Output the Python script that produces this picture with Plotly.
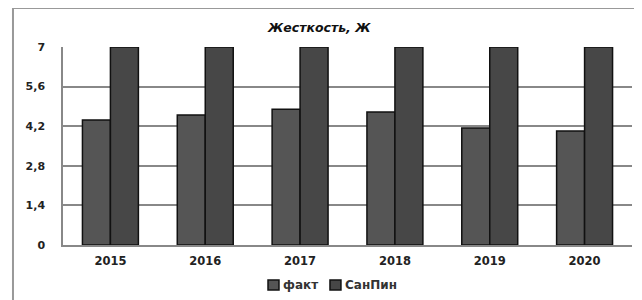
import plotly.graph_objects as go

years = ["2015", "2016", "2017", "2018", "2019", "2020"]
fakt = [4.42, 4.6, 4.8, 4.7, 4.14, 4.03]
sanpin = [7, 7, 7, 7, 7, 7]
ytick_vals = [0, 1.4, 2.8, 4.2, 5.6, 7]
ytick_text = ["0", "1,4", "2,8", "4,2", "5,6", "7"]
series_names = ["факт", "СанПин"]
series_colors = ["#555555", "#474747"]

fig = go.Figure()
for name, vals, col in zip(series_names, [fakt, sanpin], series_colors):
    fig.add_trace(go.Bar(x=years, y=vals, name=name, showlegend=False,
                         marker=dict(color=col, line=dict(color="#111111", width=1.5))))

font_family = "DejaVu Sans, Verdana, sans-serif"

# compact legend (symbol directly followed by text, as in the reference)
legend_sym_x = [0.3603, 0.4692]
legend_txt_x = [0.383, 0.492]
shapes = [
    dict(type="line", xref="paper", yref="paper", x0=-0.0879, x1=1.05, y0=1.197, y1=1.197,
         line=dict(color="#999999", width=2)),
    dict(type="line", xref="paper", yref="paper", x0=-0.0879, x1=-0.0879, y0=1.197, y1=-0.3,
         line=dict(color="#999999", width=2)),
]
annotations = [dict(text="<b><i>Жесткость, Ж</i></b>", x=0.45, y=1.096,
                    xref="paper", yref="paper", showarrow=False,
                    font=dict(size=12.5, color="#111111"), xanchor="center", yanchor="middle")]
for name, col, sx, tx in zip(series_names, series_colors, legend_sym_x, legend_txt_x):
    shapes.append(dict(type="rect", xref="paper", yref="paper", x0=sx, x1=sx + 0.0193,
                       y0=-0.177, y1=-0.227, fillcolor=col,
                       line=dict(color="#111111", width=1.5)))
    annotations.append(dict(text="<b>" + name + "</b>", x=tx, y=-0.202, xref="paper", yref="paper",
                            showarrow=False, xanchor="left", yanchor="middle",
                            font=dict(size=12, color="#333333", family=font_family)))

fig.update_layout(
    width=642, height=300,
    margin=dict(l=55, r=18, t=39, b=63, autoexpand=False),
    paper_bgcolor="white", plot_bgcolor="white",
    barmode="group", bargap=0.41, bargroupgap=0,
    font=dict(family=font_family, size=10, color="#222222"),
    annotations=annotations,
    shapes=shapes,
)
fig.update_yaxes(range=[0, 7], tickvals=ytick_vals, ticktext=ytick_text,
                 showgrid=True, gridcolor="#888888", gridwidth=1.5,
                 showline=True, linecolor="#888888", linewidth=1.5,
                 zeroline=False, ticks="outside", ticklen=14, tickcolor="white",
                 tickfont=dict(size=11, color="#222222", family=font_family, weight="bold"))
fig.update_xaxes(showline=True, linecolor="#888888", linewidth=1.5,
                 ticks="outside", ticklen=4, tickcolor="white",
                 tickfont=dict(size=11.5, color="#222222", family=font_family, weight="bold"))

fig.write_html("out.html")
